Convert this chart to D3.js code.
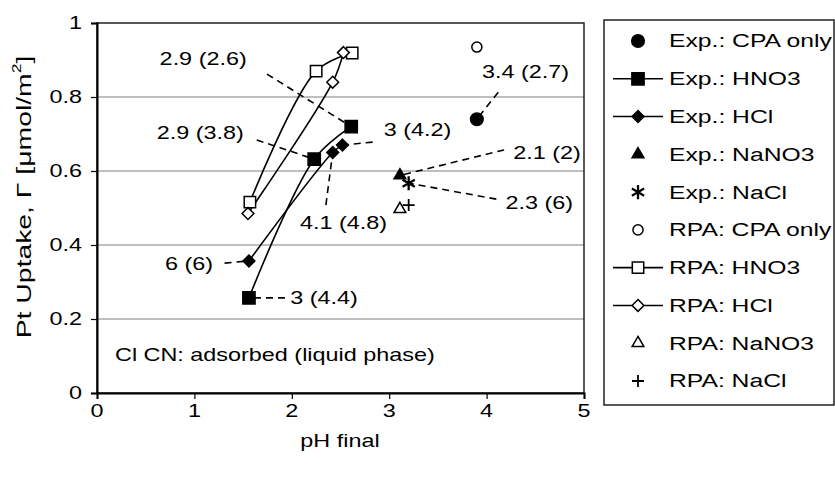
<!DOCTYPE html>
<html>
<head>
<meta charset="utf-8">
<script src="https://cdn.jsdelivr.net/npm/d3@7"></script>
<style>
  body { margin: 0; background: #fff; }
  text { font-family: "Liberation Sans", Arial, sans-serif; fill: #000; }
</style>
</head>
<body>
<div id="viz"></div>
<script>

var width = 835,
    height = 478;

// ---- data (pH final, uptake) ----
var expCpa   = [[3.9, 0.74]];
var expHno3  = [[1.56, 0.257], [2.23, 0.632], [2.61, 0.72]];
var expHcl   = [[1.56, 0.357], [2.42, 0.65], [2.52, 0.67]];
var expNano3 = [[3.11, 0.588]];
var expNacl  = [[3.2, 0.567]];
var rpaCpa   = [[3.9, 0.935]];
var rpaHno3  = [[1.57, 0.516], [2.25, 0.87], [2.62, 0.919]];
var rpaHcl   = [[1.55, 0.485], [2.42, 0.84], [2.53, 0.92]];
var rpaNano3 = [[3.11, 0.497]];
var rpaNacl  = [[3.2, 0.508]];

var legendNames = ["Exp.: CPA only", "Exp.: HNO3", "Exp.: HCl", "Exp.: NaNO3", "Exp.: NaCl",
                   "RPA: CPA only", "RPA: HNO3", "RPA: HCl", "RPA: NaNO3", "RPA: NaCl"];
var xTicks = [0, 1, 2, 3, 4, 5];
var yTicks = [0, 0.2, 0.4, 0.6, 0.8, 1];

// annotations: label, text point [x,y], leader start [x,y], leader end [x,y], anchor
var notes = [
  ["2.9 (2.6)", [1.09, 0.903], [1.745, 0.862], [2.61, 0.72], "middle"],
  ["2.9 (3.8)", [1.06, 0.705], [1.64, 0.684], [2.23, 0.632], "middle"],
  ["3 (4.2)",   [3.29, 0.711], [2.83, 0.678], [2.52, 0.67], "middle"],
  ["3.4 (2.7)", [4.40, 0.868], [4.12, 0.813], [3.9, 0.74], "middle"],
  ["2.1 (2)",   [4.62, 0.650], [4.18, 0.657], [3.11, 0.588], "middle"],
  ["2.3 (6)",   [4.54, 0.514], [4.10, 0.524], [3.2, 0.567], "middle"],
  ["4.1 (4.8)", [2.53, 0.462], [2.35, 0.508], [2.42, 0.65], "middle"],
  ["6 (6)",     [0.945, 0.349], [1.31, 0.351], [1.56, 0.357], "middle"],
  ["3 (4.4)",   [2.33, 0.257], [1.93, 0.257], [1.56, 0.257], "middle"]
];

var SX = 1.3;      // text in the source is stretched along its run
var FS = 18;

var svg = d3.select("#viz")
    .append("svg")
    .attr("width", width)
    .attr("height", height);

var x = d3.scaleLinear().domain([0, 5]).range([97, 584]);
var y = d3.scaleLinear().domain([0, 1]).range([393, 23]);

function label(g, px, py, str, anchor, size) {
  return g.append("text")
      .attr("transform", "translate(" + px + "," + py + ") scale(" + SX + ",1)")
      .attr("text-anchor", anchor || "start")
      .attr("dominant-baseline", "central")
      .style("font-size", (size || FS) + "px")
      .text(str);
}

// ****************** grid + frame ***************************
svg.append("g").selectAll("line")
    .data([0.2, 0.4, 0.6, 0.8])
    .enter().append("line")
      .attr("x1", x(0)).attr("x2", x(5))
      .attr("y1", function(d) { return y(d); })
      .attr("y2", function(d) { return y(d); })
      .attr("stroke", "#808080")
      .attr("stroke-width", 1.2);

svg.append("rect")
    .attr("x", x(0)).attr("y", y(1))
    .attr("width", x(5) - x(0)).attr("height", y(0) - y(1))
    .attr("fill", "none")
    .attr("stroke", "#222")
    .attr("stroke-width", 1.5);

svg.append("g")
    .attr("transform", "translate(0," + y(0) + ")")
    .call(d3.axisBottom(x).tickValues(xTicks).tickSize(6).tickFormat(""));
svg.append("g")
    .attr("transform", "translate(" + x(0) + ",0)")
    .call(d3.axisLeft(y).tickValues(yTicks).tickSize(6).tickFormat(""));
svg.selectAll(".domain").attr("stroke", "#000").attr("stroke-width", 2);
svg.selectAll(".tick line").attr("stroke", "#000").attr("stroke-width", 1.2);

xTicks.forEach(function(t) { label(svg, x(t), 411, d3.format("")(t), "middle"); });
yTicks.forEach(function(t) { label(svg, 82, y(t), d3.format("")(t), "end"); });

label(svg, 340, 441, "pH final", "middle");

var yt = svg.append("text")
    .attr("transform", "translate(23,197) rotate(-90) scale(1.35,1)")
    .attr("text-anchor", "middle")
    .attr("dominant-baseline", "central")
    .style("font-size", "21px");
yt.append("tspan").text("Pt Uptake, \u0393 [\u03bcmol/m");
yt.append("tspan").attr("dy", -7).style("font-size", "13px").text("2");
yt.append("tspan").attr("dy", 7).text("]");

// ****************** series ***************************
var line = d3.line()
    .x(function(d) { return x(d[0]); })
    .y(function(d) { return y(d[1]); })
    .curve(d3.curveCatmullRom.alpha(0.5));

[expHno3, expHcl, rpaHno3, rpaHcl].forEach(function(s) {
  svg.append("path")
      .attr("d", line(s))
      .attr("fill", "none")
      .attr("stroke", "#000")
      .attr("stroke-width", 1.6);
});

// leader lines
var leaders = svg.append("g");
notes.forEach(function(n) {
  leaders.append("line")
      .attr("x1", x(n[2][0])).attr("y1", y(n[2][1]))
      .attr("x2", x(n[3][0])).attr("y2", y(n[3][1]))
      .attr("stroke", "#000")
      .attr("stroke-width", 1.6)
      .attr("stroke-dasharray", "7,5");
  label(svg, x(n[1][0]), y(n[1][1]), n[0], n[4]);
});

label(svg, x(0.185), y(0.103), "Cl CN: adsorbed (liquid phase)", "start");

// square-ish diamond, like the spreadsheet marker
var diamond = {
  draw: function(ctx, size) {
    var r = Math.sqrt(size / 2);
    ctx.moveTo(0, -r); ctx.lineTo(r, 0); ctx.lineTo(0, r); ctx.lineTo(-r, 0); ctx.closePath();
  }
};

// marker styles for each series, in legend order
var styles = [
  {data: expCpa,   type: d3.symbolCircle,   size: 125, fill: "#000"},
  {data: expHno3,  type: d3.symbolSquare,   size: 150, fill: "#000", line: true},
  {data: expHcl,   type: diamond,           size: 70,  fill: "#000", line: true},
  {data: expNano3, type: d3.symbolTriangle, size: 60,  fill: "#000"},
  {data: expNacl,  type: d3.symbolAsterisk, size: 140, fill: "none"},
  {data: rpaCpa,   type: d3.symbolCircle,   size: 80,  fill: "#fff"},
  {data: rpaHno3,  type: d3.symbolSquare,   size: 130, fill: "#fff", line: true},
  {data: rpaHcl,   type: diamond,           size: 70,  fill: "#fff", line: true},
  {data: rpaNano3, type: d3.symbolTriangle, size: 60,  fill: "#fff"},
  {data: rpaNacl,  type: d3.symbolPlus,     size: 110, fill: "none"}
];

function drawSymbol(g, st, px, py) {
  var t = st.type;
  if (t === d3.symbolPlus) {
    var h = 6;
    g.append("path")
        .attr("d", "M" + (px - h) + "," + py + "H" + (px + h) + "M" + px + "," + (py - h) + "V" + (py + h))
        .attr("stroke", "#000").attr("stroke-width", 1.8);
    return;
  }
  g.append("path")
      .attr("transform", "translate(" + px + "," + py + ")")
      .attr("d", d3.symbol().type(t).size(st.size)())
      .attr("fill", st.fill)
      .attr("stroke", "#000")
      .attr("stroke-width", t === d3.symbolAsterisk ? 2.3 : 1.5);
}

var marks = svg.append("g");
styles.forEach(function(st) {
  st.data.forEach(function(d) { drawSymbol(marks, st, x(d[0]), y(d[1])); });
});

// ****************** legend ***************************
var lg = svg.append("g");
lg.append("rect")
    .attr("x", 604).attr("y", 20)
    .attr("width", 230).attr("height", 385)
    .attr("fill", "#fff")
    .attr("stroke", "#222")
    .attr("stroke-width", 1.5);

var ly = d3.scalePoint().domain(legendNames).range([41, 381]);
legendNames.forEach(function(name, i) {
  var st = styles[i], cy = ly(name);
  if (st.line) {
    lg.append("line")
        .attr("x1", 613).attr("x2", 663)
        .attr("y1", cy).attr("y2", cy)
        .attr("stroke", "#000").attr("stroke-width", 1.6);
  }
  drawSymbol(lg, st, 638, cy);
  label(lg, 669, cy, name, "start", 19);
});

</script>
</body>
</html>
